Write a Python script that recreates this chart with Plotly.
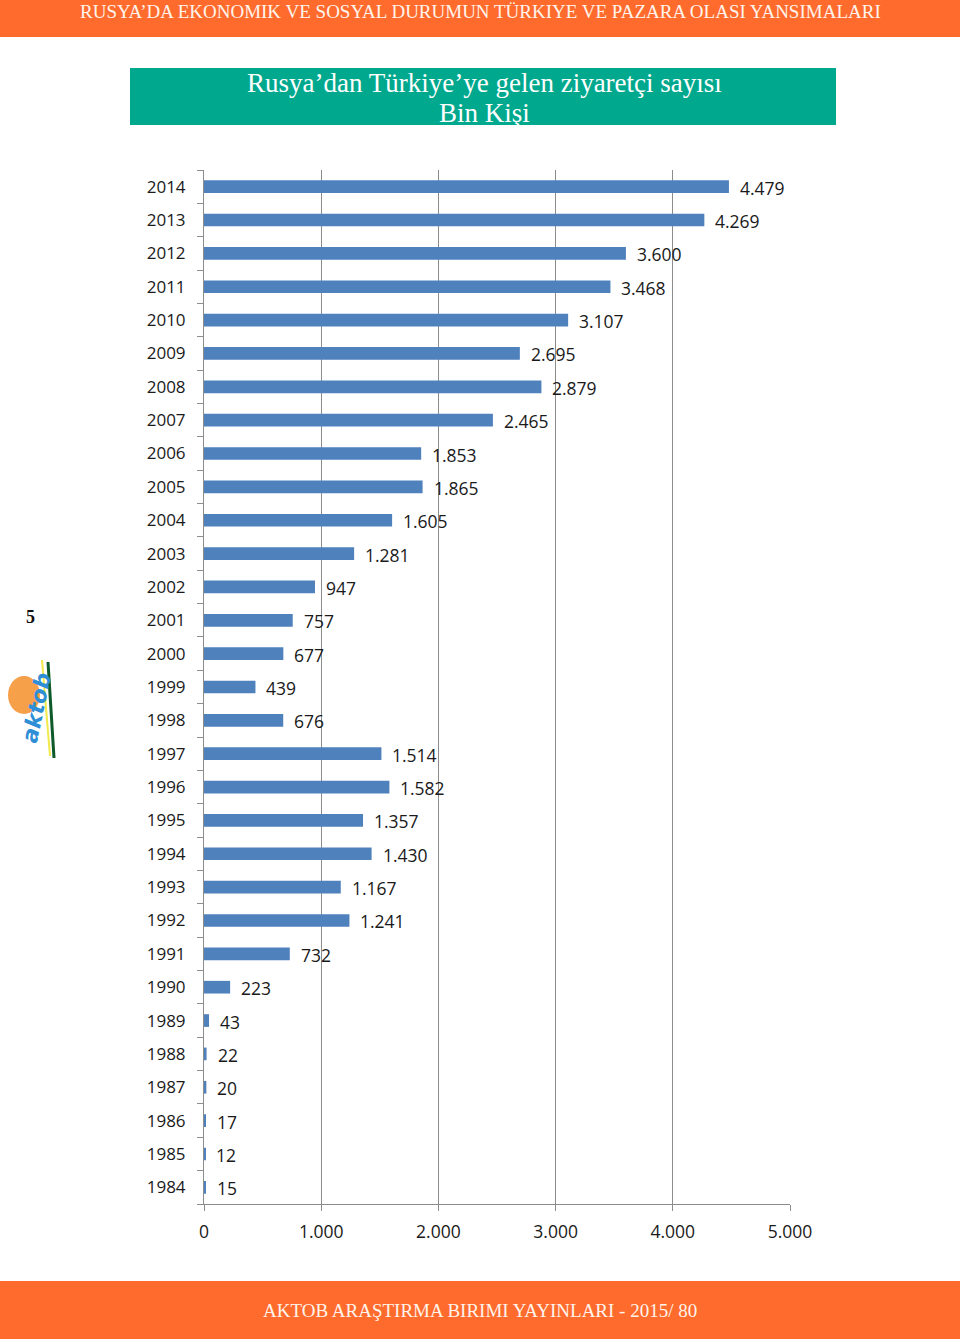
import plotly.graph_objects as go

years = [str(y) for y in range(1984, 2015)]
visitors = [15, 12, 17, 20, 22, 43, 223, 732, 1241, 1167, 1430, 1357, 1582, 1514,
            676, 439, 677, 757, 947, 1281, 1605, 1865, 1853, 2465, 2879, 2695,
            3107, 3468, 3600, 4269, 4479]
x_ticks = [0, 1000, 2000, 3000, 4000, 5000]
x_tick_labels = ["0", "1.000", "2.000", "3.000", "4.000", "5.000"]

header_text = "RUSYA’DA EKONOMIK VE SOSYAL DURUMUN TÜRKIYE VE PAZARA OLASI YANSIMALARI"
title_line1 = "Rusya’dan Türkiye’ye gelen ziyaretçi sayısı"
title_line2 = "Bin Kişi"
footer_text = "AKTOB ARAŞTIRMA BIRIMI YAYINLARI - 2015/ 80"


def fmt(v):
    return f"{v:,}".replace(",", ".")


W, H = 960, 1339
L, R, T, B = 204, 170, 170, 135
PW, PH = W - L - R, H - T - B


def xp(px):
    return (px - L) / PW


def yp(py):
    return (H - B - py) / PH


fig = go.Figure()
fig.add_trace(go.Bar(
    y=years, x=visitors, orientation="h",
    marker=dict(color="#4F81BD", line=dict(width=0)),
    width=0.38, hoverinfo="x+y"
))

annotations = []
for i, v in enumerate(visitors):
    annotations.append(dict(
        x=v, y=i, xref="x", yref="y", text=fmt(v), showarrow=False,
        xanchor="left", xshift=9, yshift=-1,
        font=dict(family="Open Sans, Liberation Sans, sans-serif", size=17.5, color="#1a1a1a")
    ))

serif = "Liberation Serif, serif"
annotations += [
    dict(x=xp(480), y=yp(11), xref="paper", yref="paper", text=header_text, showarrow=False,
         xanchor="center", yanchor="middle",
         font=dict(family=serif, size=19, color="#FFF4EC")),
    dict(x=xp(484), y=yp(83), xref="paper", yref="paper", text=title_line1, showarrow=False,
         xanchor="center", yanchor="middle",
         font=dict(family=serif, size=27, color="#FFFFFF")),
    dict(x=xp(484), y=yp(113), xref="paper", yref="paper", text=title_line2, showarrow=False,
         xanchor="center", yanchor="middle",
         font=dict(family=serif, size=27, color="#FFFFFF")),
    dict(x=xp(480), y=yp(1310), xref="paper", yref="paper", text=footer_text, showarrow=False,
         xanchor="center", yanchor="middle",
         font=dict(family=serif, size=19, color="#FFF4EC")),
    dict(x=xp(30), y=yp(617), xref="paper", yref="paper", text="<b>5</b>", showarrow=False,
         xanchor="center", yanchor="middle",
         font=dict(family=serif, size=18, color="#111111")),
    dict(x=xp(36), y=yp(708), xref="paper", yref="paper", text="<b><i>aktob</i></b>", showarrow=False,
         xanchor="center", yanchor="middle", textangle=-78,
         font=dict(family="DejaVu Sans, sans-serif", size=22, color="#2E8FD6")),
]

shapes = [
    dict(type="rect", xref="paper", yref="paper", x0=xp(0), x1=xp(960), y0=yp(0), y1=yp(37),
         fillcolor="#FF6B2C", line=dict(width=0), layer="below"),
    dict(type="rect", xref="paper", yref="paper", x0=xp(130), x1=xp(836), y0=yp(68), y1=yp(125),
         fillcolor="#00A88E", line=dict(width=0), layer="below"),
    dict(type="rect", xref="paper", yref="paper", x0=xp(0), x1=xp(960), y0=yp(1281), y1=yp(1339),
         fillcolor="#FF6B2C", line=dict(width=0), layer="below"),
    dict(type="circle", xref="paper", yref="paper", x0=xp(8), x1=xp(40), y0=yp(676), y1=yp(714),
         fillcolor="#F7A04A", line=dict(width=0), layer="below"),
    dict(type="line", xref="paper", yref="paper", x0=xp(48), x1=xp(54), y0=yp(662), y1=yp(758),
         line=dict(color="#0E5A2A", width=3)),
    dict(type="line", xref="paper", yref="paper", x0=xp(42), x1=xp(50), y0=yp(660), y1=yp(756),
         line=dict(color="#F2E94A", width=2)),
]

tickfont = dict(family="Open Sans, Liberation Sans, sans-serif", size=17, color="#1a1a1a")

fig.update_layout(
    width=W, height=H, autosize=False,
    margin=dict(l=L, r=R, t=T, b=B, pad=0),
    paper_bgcolor="white", plot_bgcolor="white",
    showlegend=False,
    annotations=annotations, shapes=shapes,
    xaxis=dict(
        range=[0, 5000], tickvals=x_ticks, ticktext=x_tick_labels,
        showgrid=True, gridcolor="#8C8C8C", gridwidth=1,
        showline=True, linecolor="#8C8C8C", linewidth=1,
        ticks="outside", ticklen=6, tickcolor="#8C8C8C",
        ticklabelstandoff=6,
        tickfont=dict(family="Open Sans, Liberation Sans, sans-serif", size=17.5, color="#1a1a1a"),
        zeroline=False, fixedrange=True,
    ),
    yaxis=dict(
        type="category", categoryorder="array", categoryarray=years,
        range=[-0.5, len(years) - 0.5], autorange=False,
        showline=True, linecolor="#8C8C8C", linewidth=1,
        ticks="outside", ticklen=6, tickcolor="#8C8C8C", tickson="boundaries",
        ticklabelstandoff=14,
        tickfont=tickfont,
        showgrid=False, fixedrange=True,
    ),
)

fig.write_html("out.html", config={"displayModeBar": False, "staticPlot": False},
               post_script="document.body.style.margin='0';document.body.style.overflow='hidden';")
